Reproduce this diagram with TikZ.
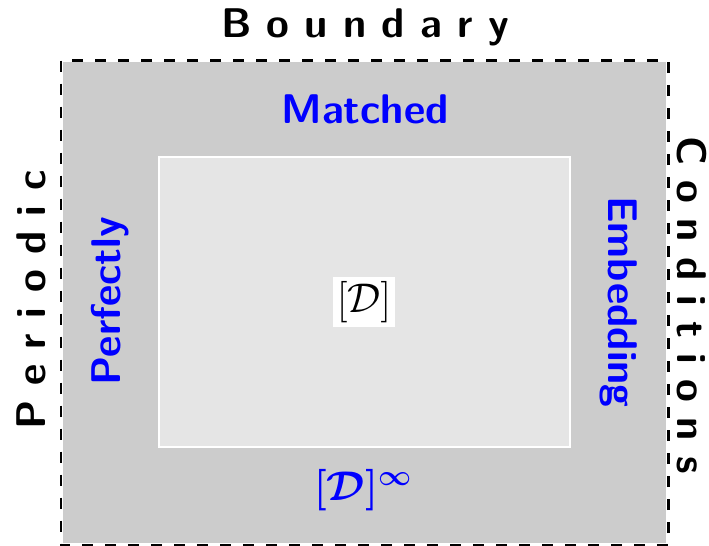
\documentclass[tikz,border=0pt]{standalone}
\usepackage{amsmath}
\usepackage{tikz}
\usetikzlibrary{positioning}
\tikzstyle{side_text}=[font=\sffamily\bfseries\huge, text=black, inner sep=0pt]
\tikzstyle{layer_text}=[font=\sffamily\bfseries\huge, text=blue, inner sep=0pt]
\tikzstyle{halo}=[draw=black, line width=1.4pt, dash pattern=on 5.5pt off 6pt]
\tikzstyle{core}=[draw=white, line width=0.6pt, fill=black!10]

\begin{document}
\begin{tikzpicture}[x=0.5pt, y=-0.5pt]
\useasboundingbox (0,0) rectangle (709,546);
\fill[black!20] (63,62) rectangle (666,543);
\draw[halo] (61,60.5) rectangle (668.5,545);
\draw[core] (159,157) rectangle (570,447);
\node[fill=white, inner sep=2pt, font=\huge] (dom) at (364,302) {$[\mathcal{D}]$};
\node[layer_text] (top) at (365,109) {Matched};
\node[layer_text, rotate=90] (left) at (110,301) {Perfectly};
\node[layer_text, rotate=-90] (right) at (619,302) {Embedding};
\node[text=blue, font=\huge\boldmath] (dominf) at (363,490) {$[\mathcal{D}]^{\infty}$};
\node[side_text] (bnd) at (365,27) {B o u n d a r y};
\node[side_text, rotate=90] (per) at (31,300) {P e r i o d i c};
\node[side_text, rotate=-90] (cond) at (692,305) {C o n d i t i o n s};
\end{tikzpicture}
\end{document}
